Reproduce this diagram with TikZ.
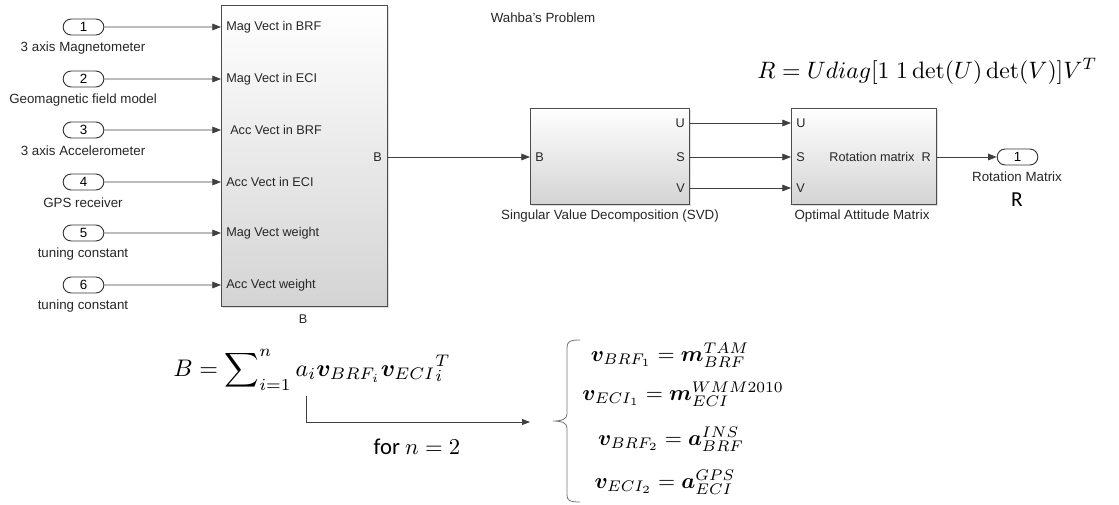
\documentclass[tikz,border=0pt]{standalone}
\usepackage{amsmath}
\usepackage{bm}
\usepackage{graphicx}
\usepackage[no-math]{fontspec}
\setmainfont{Liberation Sans}
\newfontfamily\calf{Carlito}
\usetikzlibrary{arrows.meta,shapes.misc,shadows}
\begin{document}
\begin{tikzpicture}[x=0.75pt,y=-0.75pt,
  wire/.style={draw=black!75,line width=0.6pt},
  arr/.style={wire,-{Triangle[length=6.5pt,width=5pt]}},
  blk/.style={draw=black!70,line width=0.7pt,top color=white,bottom color=black!17,
    drop shadow={opacity=0.25,shadow xshift=1.2pt,shadow yshift=-1.2pt},inner sep=0pt},
  port/.style={draw=black!80,line width=0.7pt,rounded rectangle,minimum width=30.5pt,
    minimum height=12pt,inner sep=0pt,font=\fontsize{10}{11}\selectfont,fill=white},
  lbl/.style={inner sep=0pt,font=\fontsize{10}{11}\selectfont,text=black!85},
  plbl/.style={lbl,font=\fontsize{9.5}{10}\selectfont},
  mth/.style={inner sep=0pt},
  brc/.style={draw=black!55,line width=0.6pt},
]
\useasboundingbox (0,0) rectangle (1119,504);

% blocks
\node[blk,anchor=north west,minimum width=124.5pt,minimum height=225.75pt] (Bblk) at (221,5) {};
\node[blk,anchor=north west,minimum width=119.25pt,minimum height=72pt] (svd) at (530,108) {};
\node[blk,anchor=north west,minimum width=108.75pt,minimum height=72pt] (opt) at (791,108) {};

% inports
\foreach \i/\y/\t in {1/27/3 axis Magnetometer,2/79/Geomagnetic field model,3/130/3 axis Accelerometer,4/182/GPS receiver,5/233/tuning constant,6/285/tuning constant}{
  \node[port] (p\i) at (83.5,\y) {\i};
  \node[lbl] (l\i) at (83,\y+21) {\t};
  \draw[arr] (p\i) -- (p\i -| Bblk.west);
}

% B block port labels
\node[plbl,anchor=west] (b1) at (226,27) {Mag Vect in BRF};
\node[plbl,anchor=west] (b2) at (226,79) {Mag Vect in ECI};
\node[plbl,anchor=west] (b3) at (230,130) {Acc Vect in BRF};
\node[plbl,anchor=west] (b4) at (226,182) {Acc Vect in ECI};
\node[plbl,anchor=west] (b5) at (226,233) {Mag Vect weight};
\node[plbl,anchor=west] (b6) at (226,285) {Acc Vect weight};
\node[plbl,anchor=east] (bo) at (382,157) {B};
\node[plbl] (bname) at (303,319) {B};

% SVD
\node[plbl,anchor=west] (si) at (535,157) {B};
\node[plbl,anchor=east] (su) at (685,123) {U};
\node[plbl,anchor=east] (ss) at (685,157) {S};
\node[plbl,anchor=east] (sv) at (685,188) {V};
\node[lbl] (svdname) at (610,216) {Singular Value Decomposition (SVD)};

% Optimal
\node[plbl,anchor=west] (ou) at (796,123) {U};
\node[plbl,anchor=west] (os) at (796,157) {S};
\node[plbl,anchor=west] (ov) at (796,188) {V};
\node[plbl,anchor=east] (orot) at (931,157) {Rotation matrix\ \ R};
\node[lbl] (optname) at (862,216) {Optimal Attitude Matrix};

% outport
\node[port] (out1) at (1017.5,157) {1};
\node[lbl] (outl) at (1017,177) {Rotation Matrix};
\node[inner sep=0pt,font=\calf\fontsize{16}{18}\selectfont] (Rl) at (1017,200) {R};

\node[lbl] (title) at (543,18) {Wahba's Problem};

% wires
\draw[arr] (Bblk.east |- 0,157) -- (svd.west |- 0,157);
\draw[arr] (svd.east |- 0,123) -- (opt.west |- 0,123);
\draw[arr] (svd.east |- 0,157) -- (opt.west |- 0,157);
\draw[arr] (svd.east |- 0,188) -- (opt.west |- 0,188);
\draw[arr] (opt.east |- 0,157) -- (out1.west);

% R formula
\node[mth,anchor=west] (Rf) at (757,71) {\scalebox{1.78}{$R = Udiag[1\;1\det(U)\det(V)]V^{T}$}};

% B formula
\node[mth,anchor=west] (Bf) at (173,370) {\scalebox{1.8}{$B = \displaystyle\sum\nolimits_{i=1}^{n} a_i\bm{v}_{BRF_i}{\bm{v}_{ECI}}_{i}^{T}$}};
\coordinate (fs) at (306,396);
\coordinate (fe) at (530,422);
\draw[wire,-{Triangle[length=6pt,width=4.5pt]}] (fs) |- (fe);
\node[mth] (forn) at (417,447) {\scalebox{1.7}{\calf for $n=2$}};

% brace
\draw[brc] (580,340) .. controls (569,340) and (567,342) .. (567,348) -- (567,414)
  .. controls (567,419) and (562,421) .. (553,421)
  .. controls (562,421) and (567,423) .. (567,428) -- (567,495)
  .. controls (567,500) and (569,502) .. (580,502);

% equations
\node[mth,anchor=base] (e1) at (670,361) {\scalebox{1.65}{$\bm{v}_{BRF_1} = \bm{m}_{BRF}^{TAM}$}};
\node[mth,anchor=base] (e2) at (683,400) {\scalebox{1.65}{$\bm{v}_{ECI_1} = \bm{m}_{ECI}^{WMM2010}$}};
\node[mth,anchor=base] (e3) at (671,445) {\scalebox{1.65}{$\bm{v}_{BRF_2} = \bm{a}_{BRF}^{INS}$}};
\node[mth,anchor=base] (e4) at (665,488) {\scalebox{1.65}{$\bm{v}_{ECI_2} = \bm{a}_{ECI}^{GPS}$}};
\end{tikzpicture}
\end{document}
